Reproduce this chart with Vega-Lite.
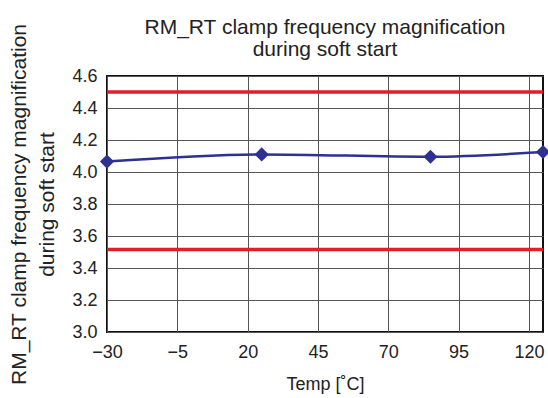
{
  "$schema": "https://vega.github.io/schema/vega-lite/v6.json",
  "autosize": "none",
  "width": 436,
  "height": 256,
  "padding": {"left": 107, "top": 76, "right": 5, "bottom": 66},
  "background": "white",
  "config": {
    "font": "Liberation Sans",
    "view": {"stroke": "#111", "strokeWidth": 2},
    "axis": {"labelFont": "Liberation Sans", "titleFont": "Liberation Sans", "labelColor": "#222", "titleColor": "#222", "titleFontWeight": "normal", "gridColor": "#555", "gridOpacity": 1, "gridWidth": 1, "domain": false, "ticks": false, "labelFontSize": 18, "titleFontSize": 18, "labelOverlap": false, "labelFlush": false}
  },
  "title": {
    "text": ["RM_RT clamp frequency magnification", "during soft start"],
    "fontSize": 21,
    "fontWeight": "normal",
    "color": "#222",
    "lineHeight": 22,
    "offset": -37,
    "anchor": "middle"
  },
  "datasets": {
    "limits": [{"value": 4.5}, {"value": 3.515}],
    "meas": [
      {"temp": -30, "value": 4.065},
      {"temp": 25, "value": 4.11},
      {"temp": 85, "value": 4.095},
      {"temp": 125, "value": 4.125}
    ]
  },
  "encoding": {
    "y": {"field": "value", "type": "quantitative", "scale": {"domain": [3.0, 4.6], "nice": false, "zero": false},
      "axis": {"values": [3.0, 3.2, 3.4, 3.6, 3.8, 4.0, 4.2, 4.4, 4.6], "format": ".1f", "labelPadding": 10,
        "title": ["RM_RT clamp frequency magnification", "during soft start"], "titleFontSize": 21, "titleLineHeight": 28, "titlePadding": 14}}
  },
  "layer": [
    {
      "data": {"name": "limits"},
      "mark": {"type": "rule", "color": "#E31E24", "strokeWidth": 3.5}
    },
    {
      "data": {"name": "meas"},
      "mark": {"type": "line", "color": "#2E3192", "strokeWidth": 2.5, "interpolate": "monotone", "clip": false},
      "encoding": {
        "x": {"field": "temp", "type": "quantitative", "scale": {"domain": [-30, 125], "nice": false, "zero": false},
          "axis": {"values": [-30, -5, 20, 45, 70, 95, 120], "labelPadding": 11, "title": "Temp [˚C]", "titlePadding": 14}}
      }
    },
    {
      "data": {"name": "meas"},
      "mark": {"type": "point", "shape": "diamond", "filled": true, "color": "#2E3192", "size": 200, "opacity": 1, "clip": false},
      "encoding": {
        "x": {"field": "temp", "type": "quantitative"}
      }
    }
  ]
}
